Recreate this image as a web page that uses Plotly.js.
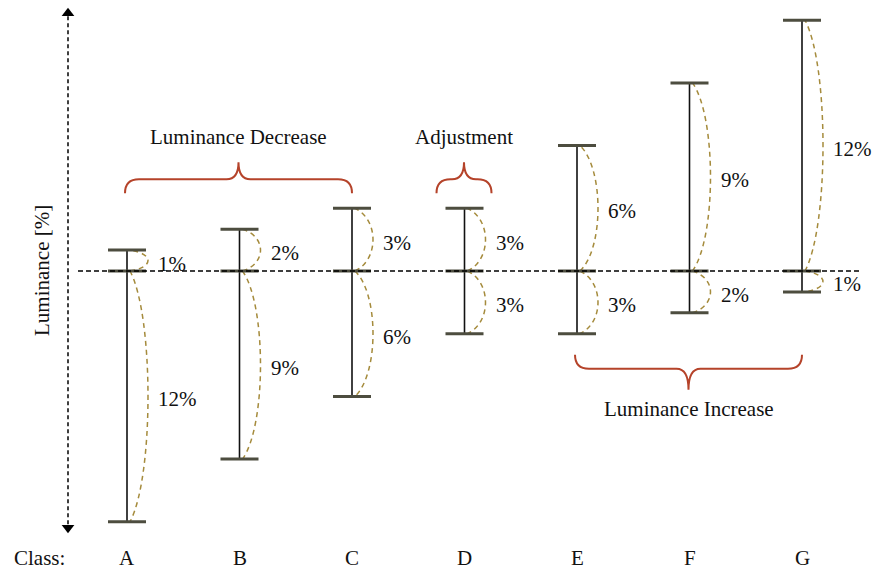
<!DOCTYPE html>
<html><head><meta charset="utf-8">
<script src="https://cdn.plot.ly/plotly-3.0.1.min.js"></script>
<style>html,body{margin:0;padding:0;background:#fff}</style>
</head><body><div id="chart" style="width:880px;height:571px"></div>
<script>
// ---- data ----
const classes = ['A','B','C','D','E','F','G'];
const upPct = [1, 2, 3, 3, 6, 9, 12];
const downPct = [12, 9, 6, 3, 3, 2, 1];
const groupLabels = ['Luminance Decrease', 'Adjustment', 'Luminance Increase'];
const groupFrom = [0, 3, 4];
const groupTo = [2, 3, 6];
const groupSide = ['top', 'top', 'bottom'];
const axisTitle = 'Luminance [%]';
const classTitle = 'Class:';

// ---- scale helpers (pixels per unit) ----
const PX_X = 112.5, PX_Y = 20.9;
const dx = p => p / PX_X, dy = p => p / PX_Y;
const FONT = 'Liberation Serif, Times New Roman, Times, serif';
const CAP = '#4d4d3f', ARC = '#a58b3c', BRACE = '#b5432a';

const traces = [];
const shapes = [];
const n = classes.length;
const xs = classes.map((c, i) => i);
const maxUp = Math.max(...upPct), maxDown = Math.max(...downPct);

// vertical bars
let bx = [], by = [];
xs.forEach(i => { bx.push(i, i, null); by.push(upPct[i], -downPct[i], null); });
traces.push({x: bx, y: by, mode: 'lines', line: {color: '#111', width: 1.6}, hoverinfo: 'skip'});

// arcs (smooth svg curves)
xs.forEach(i => {
  [upPct[i], -downPct[i]].forEach(v => {
    const x0 = i + dx(3), b = dx(4 / 3 * 18);
    const off = v * 0.18;
    const path = `M ${x0} 0 C ${x0 + b} ${off} ${x0 + b} ${v - off} ${x0} ${v}`;
    shapes.push({type: 'path', xref: 'x', yref: 'y', path: path, layer: 'below',
      line: {color: ARC, width: 1.5, dash: '5px,4px'}});
  });
});

// caps
let cx = [], cy = [];
xs.forEach(i => {
  [upPct[i], 0, -downPct[i]].forEach(v => {
    cx.push(i - dx(19), i + dx(19), null); cy.push(v, v, null);
  });
});
traces.push({x: cx, y: cy, mode: 'lines', line: {color: CAP, width: 3}, hoverinfo: 'skip'});

// baseline dashed
traces.push({x: [-dx(49), (n - 1) + dx(58)], y: [0, 0], mode: 'lines',
  line: {color: '#000', width: 1.5, dash: '5px,3px'}, hoverinfo: 'skip'});

// luminance double arrow axis
const axX = -dx(59);
const topTip = maxUp + dy(12), botTip = -(maxDown + dy(11));
traces.push({x: [axX, axX], y: [topTip - dy(8), botTip + dy(8)], mode: 'lines',
  line: {color: '#000', width: 1.5, dash: '4px,3px'}, hoverinfo: 'skip'});
traces.push({x: [axX, axX], y: [topTip - dy(5), botTip + dy(5)], mode: 'markers',
  marker: {symbol: ['triangle-up', 'triangle-down'], size: 11, color: '#000'}, hoverinfo: 'skip'});

// annotations
const ann = [];
xs.forEach(i => {
  ann.push({x: i + dx(29), y: upPct[i] / 2 + dy(-3), text: upPct[i] + '%', xanchor: 'left', yanchor: 'middle'});
  ann.push({x: i + dx(29), y: -downPct[i] / 2 + dy(-3), text: downPct[i] + '%', xanchor: 'left', yanchor: 'middle'});
  ann.push({x: i, y: -maxDown - dy(36), text: classes[i], xanchor: 'center', yanchor: 'middle'});
});
ann.push({x: -dx(88), y: -maxDown - dy(36), text: classTitle, xanchor: 'center', yanchor: 'middle'});
ann.push({x: -dx(85), y: 0, text: axisTitle, textangle: -90, xanchor: 'center', yanchor: 'middle'});

// braces
groupLabels.forEach((lab, g) => {
  const single = groupFrom[g] === groupTo[g];
  const xl = single ? groupFrom[g] - dx(28) : groupFrom[g] - dx(2);
  const xr = single ? groupTo[g] + dx(27) : groupTo[g] - dx(0);
  const xc = (xl + xr) / 2;
  const s = groupSide[g] === 'top' ? 1 : -1;
  const yh = s > 0 ? 3 + dy(29) : -(3 + dy(35));
  const ye = yh - s * dy(14);
  const yt = yh + s * dy(s > 0 ? 17 : 21);
  const r = dx(14), rt = dx(12);
  const path = `M ${xl} ${ye} Q ${xl} ${yh} ${xl + r} ${yh} L ${xc - rt} ${yh} Q ${xc} ${yh} ${xc} ${yt} ` +
               `Q ${xc} ${yh} ${xc + rt} ${yh} L ${xr - r} ${yh} Q ${xr} ${yh} ${xr} ${ye}`;
  shapes.push({type: 'path', xref: 'x', yref: 'y', path: path, line: {color: BRACE, width: 2}});
  ann.push({x: xc, y: s > 0 ? yt + dy(25) : yt - dy(19), text: lab, xanchor: 'center', yanchor: 'middle'});
});
ann.forEach(a => { a.showarrow = false; a.xref = 'x'; a.yref = 'y'; a.font = {family: FONT, size: 21, color: '#111'}; });

const layout = {
  width: 880, height: 571, margin: {l: 0, r: 0, t: 0, b: 0},
  paper_bgcolor: '#fff', plot_bgcolor: '#fff', showlegend: false,
  font: {family: FONT},
  xaxis: {range: [-127 / PX_X, (880 - 127) / PX_X], visible: false, fixedrange: true},
  yaxis: {range: [-(571 - 271) / PX_Y, 271 / PX_Y], visible: false, fixedrange: true},
  annotations: ann, shapes: shapes
};
Plotly.newPlot('chart', traces, layout, {displayModeBar: false, staticPlot: true});
</script></body></html>
